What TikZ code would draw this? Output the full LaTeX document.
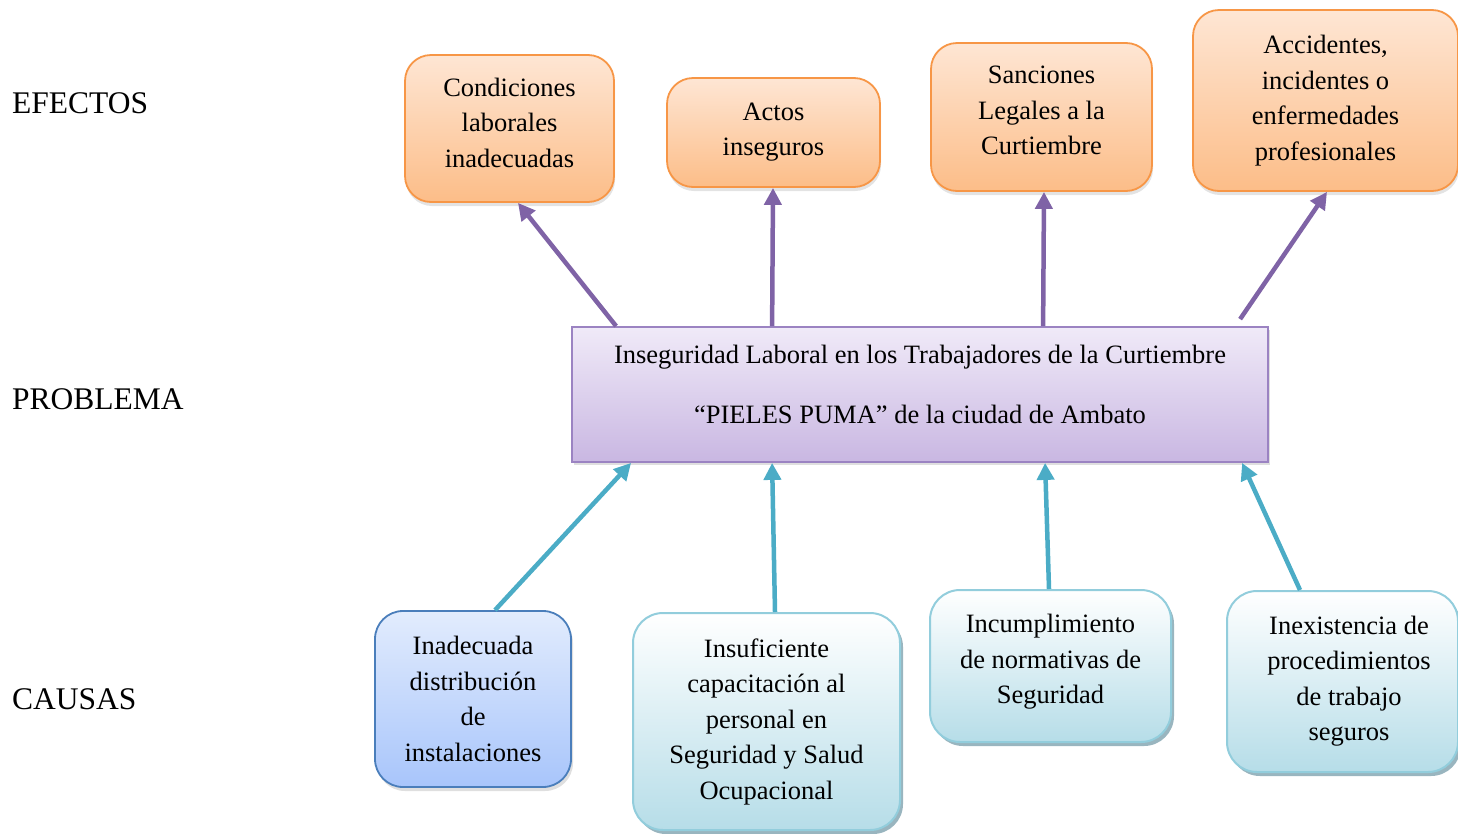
\documentclass[tikz,border=0pt]{standalone}
\usepackage{fontspec}
\setmainfont{Liberation Serif}
\usetikzlibrary{arrows.meta,shadows,calc}
\definecolor{effborder}{HTML}{F79646}
\definecolor{efftop}{HTML}{FEE6D4}
\definecolor{effbot}{HTML}{FCBD88}
\definecolor{probborder}{HTML}{9B83C2}
\definecolor{probtop}{HTML}{F0EAF8}
\definecolor{probbot}{HTML}{C9B7E2}
\definecolor{bluebord}{HTML}{4A7EBB}
\definecolor{bluetop}{HTML}{E2ECFD}
\definecolor{bluebot}{HTML}{A8C5FB}
\definecolor{cyanbord}{HTML}{92CDDC}
\definecolor{cyanbot}{HTML}{B6DDE8}
\definecolor{cyanshadow}{HTML}{8EADB8}
\definecolor{purplearrow}{HTML}{7F63A6}
\definecolor{cyanarrow}{HTML}{4BACC6}
\newcommand{\boxfont}{\fontsize{26.5}{35.5}\selectfont}
\newcommand{\labfont}{\fontsize{31.5}{38}\selectfont}
\newcommand{\shiftedtext}[3]{\hspace*{#1}\raisebox{#2}[\height][\depth]{\begin{tabular}{@{}c@{}}#3\end{tabular}}}
\tikzset{
  effbox/.style={draw=effborder, line width=1.8pt, rounded corners=26pt,
    top color=efftop, bottom color=effbot, align=center, font=\boxfont,
    inner sep=0pt,
    drop shadow={shadow xshift=1pt, shadow yshift=-4pt, opacity=0.22}},
  probbox/.style={draw=probborder, line width=1.8pt, rectangle,
    top color=probtop, bottom color=probbot, align=center, font=\boxfont,
    inner sep=0pt,
    drop shadow={shadow xshift=2pt, shadow yshift=-3pt, opacity=0.25}},
  bluebox/.style={draw=bluebord, line width=1.8pt, rounded corners=28pt,
    top color=bluetop, bottom color=bluebot, align=center, font=\boxfont,
    inner sep=0pt,
    drop shadow={shadow xshift=2pt, shadow yshift=-4pt, opacity=0.25}},
  cyanbox/.style={draw=cyanbord, line width=2pt, rounded corners=30pt,
    top color=white, bottom color=cyanbot, align=center, font=\boxfont,
    inner sep=0pt,
    drop shadow={shadow xshift=3pt, shadow yshift=-4pt, fill=cyanshadow, opacity=0.9}},
  sidelabel/.style={anchor=west, inner sep=0pt, font=\labfont},
  effarrow/.style={draw=purplearrow, line width=4.5pt,
    -{Triangle[length=17pt,width=17pt]}},
  causearrow/.style={draw=cyanarrow, line width=4.5pt,
    -{Triangle[length=17pt,width=17pt]}}
}
\begin{document}
\begin{tikzpicture}[x=1pt,y=-1pt]
\useasboundingbox (0,0) rectangle (1458,833);

% side labels
\node[sidelabel] (lefe) at (12,103) {EFECTOS};
\node[sidelabel] (lpro) at (12,399) {PROBLEMA};
\node[sidelabel] (lcau) at (12,699) {CAUSAS};

% effects
\node[effbox, minimum width=209pt, minimum height=147pt] (e1) at (509.5,128.5)
  {\shiftedtext{0pt}{4pt}{Condiciones\\laborales\\inadecuadas}};
\node[effbox, minimum width=213pt, minimum height=109pt] (e2) at (773.5,132.5)
  {\shiftedtext{0pt}{1.5pt}{Actos\\inseguros}};
\node[effbox, minimum width=221pt, minimum height=148pt] (e3) at (1041.5,117)
  {\shiftedtext{0pt}{5pt}{Sanciones\\Legales a la\\Curtiembre}};
\node[effbox, minimum width=265pt, minimum height=181pt] (e4) at (1325.5,100.5)
  {Accidentes,\\incidentes o\\enfermedades\\profesionales};

% problem
\node[probbox, minimum width=696pt, minimum height=135pt] (prob) at (920,394.5)
  {\shiftedtext{0pt}{8pt}{Inseguridad Laboral en los Trabajadores de la Curtiembre\\[24.5pt]``PIELES PUMA'' de la ciudad de Ambato}};

% causes
\node[bluebox, minimum width=196pt, minimum height=176pt] (c1) at (473,699)
  {Inadecuada\\distribución\\de\\instalaciones};
\node[cyanbox, minimum width=267pt, minimum height=217pt] (c2) at (766.5,721.5)
  {Insuficiente\\capacitación al\\personal en\\Seguridad y Salud\\Ocupacional};
\node[cyanbox, minimum width=241pt, minimum height=152pt] (c3) at (1050.5,666)
  {\shiftedtext{0pt}{5pt}{Incumplimiento\\de normativas de\\Seguridad}};
\node[cyanbox, minimum width=231pt, minimum height=181pt] (c4) at (1342.5,681.5)
  {\shiftedtext{13pt}{1pt}{Inexistencia de\\procedimientos\\de trabajo\\seguros}};

% effect arrows
\draw[effarrow] ($(prob.north west)+(45,0)$) -- ($(e1.south)+(8.5,0)$);
\draw[effarrow] ($(prob.north west)+(201,0)$) -- ($(e2.south)+(-0.5,0)$);
\draw[effarrow] ($(prob.north west)+(472,0)$) -- ($(e3.south)+(2.5,0)$);
\draw[effarrow] ($(prob.north west)+(669,-7)$) -- ($(e4.south)+(1.5,0)$);

% cause arrows
\draw[causearrow] ($(c1.north)+(22,0)$) -- ($(prob.south west)+(60,0)$);
\draw[causearrow] ($(c2.north)+(8.5,0)$) -- ($(prob.south west)+(201,0)$);
\draw[causearrow] ($(c3.north)+(-1.5,0)$) -- ($(prob.south west)+(474,0)$);
\draw[causearrow] ($(c4.north)+(-42.5,0)$) -- ($(prob.south west)+(671,0)$);
\end{tikzpicture}
\end{document}
